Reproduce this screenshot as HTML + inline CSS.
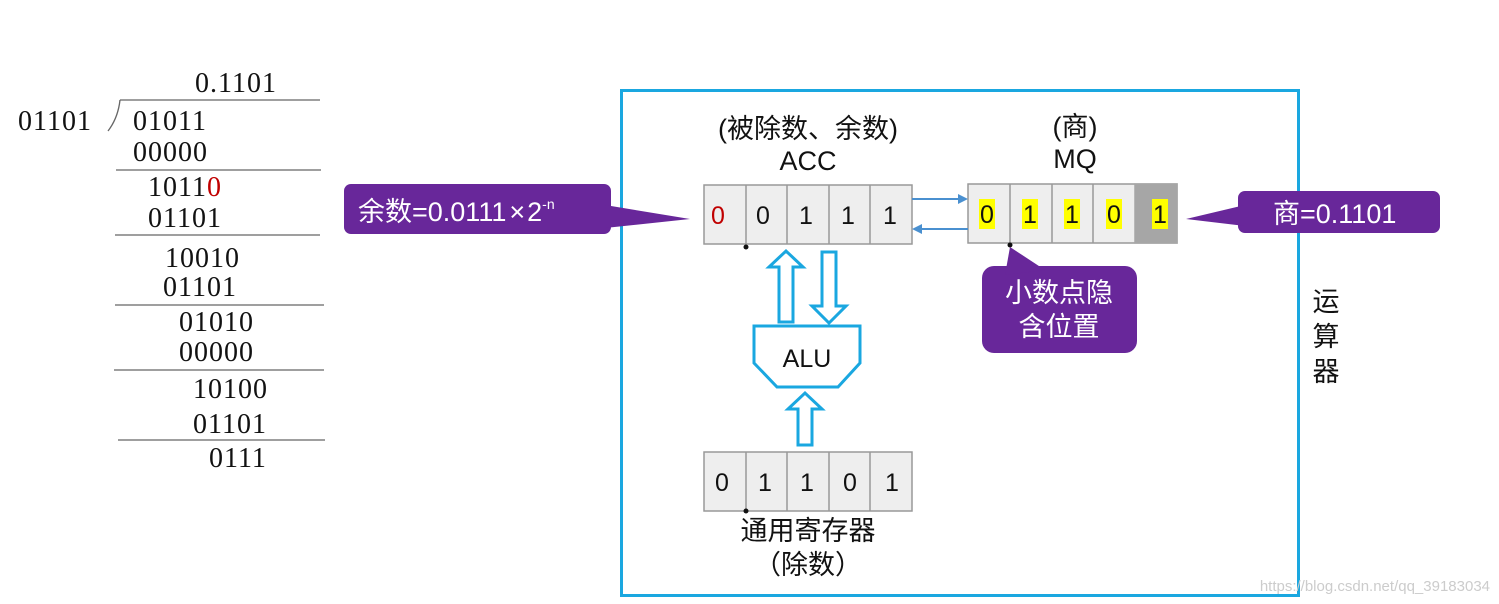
<!DOCTYPE html>
<html><head><meta charset="utf-8"><style>
html,body{margin:0;padding:0;background:#fff;}
svg{display:block;}
.s{font-family:"Liberation Serif","Noto Serif CJK SC",serif;font-size:28px;fill:#111;letter-spacing:1px;}
.c{font-family:"Liberation Sans","Noto Sans CJK SC",sans-serif;}
</style></head><body>
<svg width="1499" height="604" viewBox="0 0 1499 604" xmlns="http://www.w3.org/2000/svg">
<g class="s">
<text x="195" y="92">0.1101</text>
<text x="18" y="130">01101</text>
<text x="133" y="130">01011</text>
<text x="133" y="161">00000</text>
<text x="148" y="196">1011<tspan fill="#c00000">0</tspan></text>
<text x="148" y="227">01101</text>
<text x="165" y="267">10010</text>
<text x="163" y="296">01101</text>
<text x="179" y="331">01010</text>
<text x="179" y="361">00000</text>
<text x="193" y="398">10100</text>
<text x="193" y="433">01101</text>
<text x="209" y="467">0111</text>
</g>
<g stroke="#666" stroke-width="1.3" fill="none">
<line x1="120" y1="100" x2="320" y2="100"/>
<path d="M120 100 Q118 118 108 131"/>
<line x1="116" y1="170" x2="321" y2="170"/>
<line x1="115" y1="235" x2="320" y2="235"/>
<line x1="115" y1="305" x2="324" y2="305"/>
<line x1="114" y1="370" x2="324" y2="370"/>
<line x1="118" y1="440" x2="325" y2="440"/>
</g>
<rect x="621.5" y="90.5" width="677" height="505" fill="none" stroke="#1aa7e0" stroke-width="3"/>
<g class="c" font-size="27" fill="#111" text-anchor="middle">
<text x="808" y="138">(被除数、余数)</text>
<text x="808" y="170">ACC</text>
<text x="1075" y="136">(商)</text>
<text x="1075" y="168">MQ</text>
<text x="808" y="540">通用寄存器</text>
<text x="808" y="574">（除数）</text>
<text x="1326" y="311">运</text>
<text x="1326" y="346">算</text>
<text x="1326" y="381">器</text>
</g>
<g stroke="#999" stroke-width="1.5" fill="#eeeeee">
<rect x="704" y="185" width="208" height="59"/>
<rect x="968" y="184" width="209" height="59"/>
<rect x="1135" y="184" width="42" height="59" fill="#a6a6a6" stroke="#a6a6a6"/>
<rect x="704" y="452" width="208" height="59"/>
</g>
<g stroke="#999" stroke-width="1.5">
<line x1="746" y1="185" x2="746" y2="244"/><line x1="787" y1="185" x2="787" y2="244"/><line x1="829" y1="185" x2="829" y2="244"/><line x1="870" y1="185" x2="870" y2="244"/>
<line x1="1010" y1="184" x2="1010" y2="243"/><line x1="1052" y1="184" x2="1052" y2="243"/><line x1="1093" y1="184" x2="1093" y2="243"/>
<line x1="746" y1="452" x2="746" y2="511"/><line x1="787" y1="452" x2="787" y2="511"/><line x1="829" y1="452" x2="829" y2="511"/><line x1="870" y1="452" x2="870" y2="511"/>
</g>
<g fill="#ffff00">
<rect x="979" y="199" width="16" height="30"/><rect x="1022" y="199" width="16" height="30"/><rect x="1064" y="199" width="16" height="30"/><rect x="1106" y="199" width="16" height="30"/><rect x="1152" y="199" width="16" height="30"/>
</g>
<g class="c" font-size="25" fill="#111" text-anchor="middle">
<text x="718" y="224" fill="#c00000">0</text><text x="763" y="224">0</text><text x="806" y="224">1</text><text x="848" y="224">1</text><text x="890" y="224">1</text>
<text x="987" y="223">0</text><text x="1030" y="223">1</text><text x="1072" y="223">1</text><text x="1114" y="223">0</text><text x="1160" y="223">1</text>
<text x="722" y="491">0</text><text x="765" y="491">1</text><text x="807" y="491">1</text><text x="850" y="491">0</text><text x="892" y="491">1</text>
</g>
<circle cx="746" cy="247" r="2.5" fill="#111"/><circle cx="1010" cy="245" r="2.5" fill="#111"/><circle cx="746" cy="511" r="2.5" fill="#111"/>
<g stroke="#4a90d0" stroke-width="2" fill="#4a90d0">
<line x1="912" y1="199" x2="960" y2="199"/><path d="M968 199 L958 194 L958 204Z" stroke="none"/>
<line x1="968" y1="229" x2="920" y2="229"/><path d="M912 229 L922 224 L922 234Z" stroke="none"/>
</g>
<g fill="#fff" stroke="#1aa7e0" stroke-width="3" stroke-linejoin="miter">
<path d="M779 322 L779 267 L769 267 L786 251 L803 267 L793 267 L793 322Z"/>
<path d="M822 252 L836 252 L836 306 L846 306 L829 323 L812 306 L822 306Z"/>
<path d="M798 445 L798 409 L788 409 L805 393 L822 409 L812 409 L812 445Z"/>
<path d="M754 326 L860 326 L860 363 L838 387 L777 387 L754 363Z"/>
</g>
<text class="c" x="807" y="367" font-size="25" fill="#111" text-anchor="middle">ALU</text>
<g fill="#68279a">
<rect x="344" y="184" width="267" height="50" rx="7"/>
<path d="M605 205 L690 219 L605 228Z"/>
<rect x="1238" y="191" width="202" height="42" rx="7"/>
<path d="M1245 205 L1186 219 L1245 226Z"/>
<rect x="982" y="266" width="155" height="87" rx="12"/>
<path d="M1010 247 L1005 275 L1045 270Z"/>
</g>
<g class="c" fill="#fff" font-size="27">
<text x="358" y="221">余数=0.0111<tspan dx="3">×</tspan><tspan dx="2">2</tspan><tspan font-size="14" dy="-12">-n</tspan></text>
<text x="1273" y="223">商=0.1101</text>
<text x="1059" y="302" text-anchor="middle">小数点隐</text>
<text x="1059" y="336" text-anchor="middle">含位置</text>
</g>
<text class="c" x="1490" y="591" font-size="15" fill="#ccc" text-anchor="end">https://blog.csdn.net/qq_39183034</text>
</svg>
</body></html>
